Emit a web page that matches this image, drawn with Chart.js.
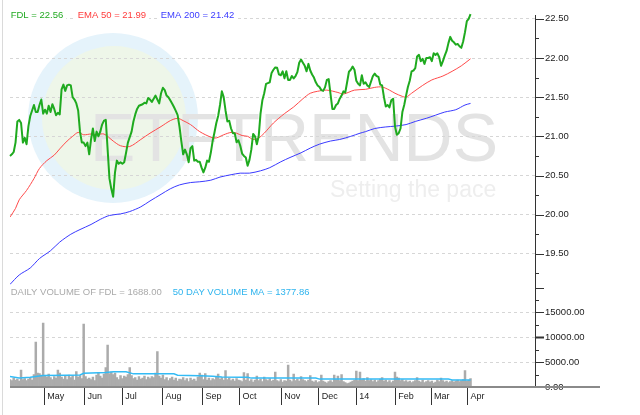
<!DOCTYPE html>
<html>
<head>
<meta charset="utf-8">
<title>FDL daily</title>
<script src="https://cdn.jsdelivr.net/npm/chart.js@4"></script>
<style>
  html, body { margin: 0; padding: 0; background: #fff; }
  #wrap { width: 640px; height: 415px; }
</style>
</head>
<body>
<div id="wrap"><canvas id="chart" width="640" height="415"></canvas></div>
<script>
// === Data (one entry per trading session, session 0 = early Apr 2013) ===
const fdl = [
  20.75, 20.77, 20.80, 20.92, 21.19, 21.21, 21.17, 20.92, 20.98, 20.90,
  21.13, 21.26, 21.33, 21.40, 21.31, 21.31, 21.40, 21.47, 21.29, 21.34,
  21.29, 21.39, 21.31, 21.41, 21.35, 21.27, 21.30, 21.28, 21.60, 21.66,
  21.58, 21.65, 21.66, 21.65, 21.50, 21.47, 21.42, 21.33, 21.06, 20.92,
  20.92, 20.875, 20.92, 20.77, 20.96, 21.10, 20.94, 21.06, 21.00, 21.06,
  21.15, 21.20, 21.21, 20.83, 20.46, 20.33, 20.23, 20.54, 20.69, 20.65,
  20.67, 20.65, 20.67, 20.79, 20.92, 20.99, 21.06, 21.19, 21.28, 21.35,
  21.39, 21.40, 21.41, 21.43, 21.42, 21.49, 21.47, 21.44, 21.48, 21.52,
  21.47, 21.42, 21.55, 21.62, 21.59, 21.52, 21.50, 21.46, 21.42, 21.375,
  21.325, 21.27, 21.125, 20.94, 20.77, 20.83, 20.77, 20.67, 20.85, 20.875,
  20.69, 20.70, 20.675, 20.675, 20.60, 20.54, 20.60, 20.69, 20.675, 20.79,
  20.94, 21.05, 21.17, 21.26, 21.40, 21.575, 21.50, 21.33, 21.19, 21.20,
  21.10, 21.04, 21.04, 20.925, 20.95, 20.88, 20.78, 20.75, 20.73, 20.625,
  20.70, 20.83, 21.03, 21.00, 20.90, 21.00, 21.29, 21.46, 21.55, 21.67,
  21.68, 21.69, 21.81, 21.85, 21.88, 21.875, 21.79, 21.78, 21.83, 21.74,
  21.83, 21.72, 21.72, 21.77, 21.74, 21.77, 21.82, 21.94, 21.98, 21.94,
  21.90, 21.83, 21.925, 21.84, 21.79, 21.75, 21.69, 21.65, 21.63, 21.59,
  21.58, 21.625, 21.72, 21.73, 21.54, 21.35, 21.35, 21.40, 21.42, 21.48,
  21.52, 21.575, 21.56, 21.69, 21.825, 21.85, 21.89, 21.85, 21.71, 21.67,
  21.65, 21.78, 21.67, 21.69, 21.65, 21.63, 21.70, 21.77, 21.80, 21.77,
  21.76, 21.66, 21.65, 21.50, 21.38, 21.40, 21.37, 21.46, 21.48, 21.125,
  21.02, 21.04, 21.10, 21.31, 21.40, 21.52, 21.63, 21.71, 21.83, 21.84,
  21.87, 22.02, 22.04, 21.96, 21.99, 21.925, 22.00, 22.00, 22.01, 21.96,
  22.06, 22.04, 22.06, 22.01, 21.90, 21.96, 22.03, 22.09, 22.19, 22.27,
  22.22, 22.20, 22.17, 22.18, 22.15, 22.13, 22.21, 22.33, 22.47, 22.50,
  22.56
];

const ema50Days = [0, 3, 5, 9, 13, 16, 20, 24, 27, 31, 34, 37, 40, 44, 47, 51, 56, 60, 65, 71,
  76, 82, 87, 91, 94, 98, 103, 109, 112, 116, 120, 123, 126, 129, 132, 135, 138, 143, 149, 154,
  159, 163, 167, 172, 178, 181, 187, 193, 198, 202, 206, 209, 213, 215, 218, 224, 229, 235, 240, 245, 250];
const ema50 = [19.97, 20.08, 20.19, 20.31, 20.46, 20.59, 20.69, 20.76, 20.84, 20.94,
  21.00, 21.05, 21.02, 21.03, 21.02, 21.03, 20.94, 20.88, 20.87, 20.96,
  21.04, 21.125, 21.20, 21.23, 21.20, 21.15, 21.06, 20.99, 20.98, 21.02,
  21.05, 21.04, 21.01, 21.00, 20.96, 20.98, 21.04, 21.17, 21.29, 21.375,
  21.48, 21.55, 21.575, 21.59, 21.56, 21.54, 21.59, 21.60, 21.625, 21.63,
  21.59, 21.55, 21.51, 21.50, 21.55, 21.65, 21.72, 21.77, 21.83, 21.90, 21.99];

const ema200Days = [0, 5, 11, 16, 22, 27, 33, 38, 44, 49, 54, 60, 65, 71, 76, 82, 87, 92, 98, 103,
  109, 114, 120, 125, 130, 136, 141, 147, 152, 158, 163, 168, 174, 179, 185, 190, 193, 198, 204, 209,
  215, 220, 226, 231, 236, 242, 247, 250];
const ema200 = [19.11, 19.23, 19.32, 19.44, 19.54, 19.65, 19.75, 19.81, 19.875, 19.94,
  19.99, 20.01, 20.04, 20.10, 20.175, 20.26, 20.33, 20.38, 20.41, 20.42,
  20.44, 20.48, 20.51, 20.53, 20.53, 20.56, 20.60, 20.675, 20.73, 20.79,
  20.85, 20.90, 20.94, 20.96, 21.00, 21.04, 21.06, 21.10, 21.12, 21.13,
  21.15, 21.19, 21.23, 21.27, 21.31, 21.34, 21.40, 21.42];

const volume = [
  1500, 1300, 1800, 1400, 1600, 1200, 3400, 1500, 1700, 1300,
  1600, 1900, 1400, 2500, 9000, 2800, 2700, 2400, 12800, 2300,
  2000, 2600, 1900, 1500, 2100, 1800, 3400, 2800, 2000, 1600,
  2200, 1500, 2400, 1900, 2300, 1400, 3100, 2000, 2300, 1700,
  12600, 2100, 1600, 1800, 1500, 2000, 1300, 2400, 2900, 2200,
  1800, 2600, 3900, 8400, 2700, 3000, 2500, 2800, 1900, 1500,
  2300, 1700, 2200, 2000, 2500, 3900, 2300, 1700, 1900, 1400,
  2100, 1600, 1800, 2200, 1500, 2000, 1700, 2100, 1900, 2800,
  7100, 2200, 1800, 2400, 1500, 1900, 1300, 1700, 2000, 1400,
  1800, 1200, 1600, 1500, 1900, 1300, 1700, 1100, 1800, 1400,
  1600, 1200, 2000, 2800, 2400, 1500, 2700, 1400, 1800, 1300,
  1700, 1500, 2000, 2600, 1600, 1900, 1400, 3300, 1500, 1800,
  1300, 1600, 1200, 1700, 1400, 1300, 1100, 2900, 1400, 2700,
  1200, 1500, 1000, 1400, 2200, 1300, 1600, 1100, 2000, 1500,
  1300, 1700, 1200, 1400, 3000, 1300, 1100, 1500, 1000, 1300,
  1200, 4400, 1400, 1100, 2600, 1300, 1600, 1200, 2100, 1500,
  1300, 1100, 1400, 2300, 1200, 1000, 1300, 900, 1100, 2400,
  1200, 1000, 800, 1100, 1300, 1000, 2400, 1500, 2200, 1300,
  2500, 1100, 900, 700, 800, 1000, 1200, 1400, 3200, 1300,
  3000, 1500, 1700, 1200, 1900, 1300, 1500, 1100, 1400, 1000,
  1300, 1600, 1900, 1200, 1400, 1000, 1300, 900, 1200, 3000,
  2000, 1800, 1300, 1500, 1100, 1300, 1000, 1200, 900, 1100,
  1300, 1900, 1200, 1000, 1400, 900, 1100, 1300, 1000, 1200,
  800, 1000, 1400, 1100, 1800, 1300, 1000, 1200, 900, 1100,
  1300, 1000, 1200, 1400, 1100, 1300, 1500, 3300, 1200, 1400,
  1688
];

const volMaDays = [0, 5, 11, 18, 31, 38, 40, 52, 56, 63, 67, 76, 89, 91, 103, 110, 115, 125, 129, 131, 166, 168, 238, 240, 250];
const volMa = [2100, 1800, 1970, 2300, 2370, 2400, 2760, 2900, 3030, 3030, 2630, 2630, 2630, 2370, 2240, 2170, 2000, 1970, 1970, 1780, 1780, 1580, 1580, 1400, 1400];

const monthPos = [18.6, 40.4, 61.0, 82.8, 104.5, 124.6, 147.3, 167.6, 188.0, 209.2, 228.6, 248.4];
const monthLabels = ['May', 'Jun', 'Jul', 'Aug', 'Sep', 'Oct', 'Nov', 'Dec', '14', 'Feb', 'Mar', 'Apr'];

const priceTicks = [19.25, 19.5, 19.75, 20, 20.25, 20.5, 20.75, 21, 21.25, 21.5, 21.75, 22, 22.25, 22.5];
const volTicks = [0, 2500, 5000, 7500, 10000, 12500, 15000, 17500];

// === Helpers ===
const FONT = '"Liberation Sans", Arial, Helvetica, sans-serif';
Chart.defaults.font.family = FONT;

const isHalf = v => Math.abs(v * 2 - Math.round(v * 2)) < 1e-6;
const isVolMajor = v => v % 5000 === 0;
const pts = (xs, ys) => ys.map((y, i) => ({ x: xs[i], y }));
const seq = ys => ys.map((y, i) => ({ x: i, y }));

function legendText(c, text, x, y, color) {
  c.font = '9.5px ' + FONT;
  const w = c.measureText(text).width;
  c.fillStyle = '#fff';
  c.fillRect(x - 3, y - 6, w + 6, 12);
  c.fillStyle = color;
  c.textBaseline = 'middle';
  c.textAlign = 'left';
  c.fillText(text, x, y);
}

function hLine(c, x1, x2, y) {
  c.beginPath();
  c.moveTo(x1, y);
  c.lineTo(x2, y);
  c.stroke();
}

// === Decorations: watermark, tick marks, legends ===
const decor = {
  id: 'decor',
  beforeDraw(chart) {
    const c = chart.ctx;
    c.save();
    c.fillStyle = '#fff';
    c.fillRect(0, 0, chart.width, chart.height);

    // watermark logo
    c.fillStyle = '#e5f3fb';
    c.beginPath(); c.arc(113, 118, 85, 0, Math.PI * 2); c.fill();
    c.fillStyle = '#eef6e9';
    c.beginPath(); c.arc(114, 118, 72, 0, Math.PI * 2); c.fill();
    c.fillStyle = '#e3e3e3';
    c.font = '68px ' + FONT;
    c.textBaseline = 'alphabetic';
    c.fillText('ETFTRENDS', 90, 161);
    c.fillStyle = '#eeeeee';
    c.font = '23px ' + FONT;
    c.fillText('Setting the pace', 330, 197);

    // left frame line
    c.strokeStyle = '#dadada';
    c.lineWidth = 1;
    c.beginPath(); c.moveTo(2.5, 0); c.lineTo(2.5, chart.height); c.stroke();
    c.restore();
  },
  afterDraw(chart) {
    const c = chart.ctx;
    const yp = chart.scales.y, yv = chart.scales.yv, area = chart.chartArea;
    c.save();
    c.strokeStyle = '#333';
    c.lineWidth = 1;
    priceTicks.forEach(v => {
      const y = Math.round(yp.getPixelForValue(v)) + 0.5;
      hLine(c, yp.left, yp.left + (isHalf(v) ? 9 : 4), y);
    });
    volTicks.forEach(v => {
      const y = Math.round(yv.getPixelForValue(v)) + 0.5;
      c.lineWidth = v === 10000 ? 2 : 1;
      hLine(c, yv.left, yv.left + (isVolMajor(v) ? 9 : 4), y);
    });
    c.lineWidth = 1;
    hLine(c, yv.left, yv.left + 9, Math.round(yv.top) + 0.5);

    // bottom axis line running past the price axis
    c.strokeStyle = '#8a8a8a';
    c.lineWidth = 2;
    hLine(c, area.left, 600, area.bottom);

    legendText(c, 'FDL = 22.56', 10.7, 15, '#22aa22');
    legendText(c, 'EMA 50 = 21.99', 77.7, 15, '#ff3b3b');
    legendText(c, 'EMA 200 = 21.42', 160.7, 15, '#3b3bff');
    legendText(c, 'DAILY VOLUME OF FDL = 1688.00', 10.7, 292.3, '#aaaaaa');
    legendText(c, '50 DAY VOLUME MA = 1377.86', 172.7, 292.3, '#2eb4ee');
    c.restore();
  }
};

// === Chart ===
new Chart(document.getElementById('chart'), {
  type: 'line',
  data: {
    datasets: [
      {
        label: 'FDL', data: seq(fdl), yAxisID: 'y',
        borderColor: '#1faa1f', borderWidth: 2, borderJoinStyle: 'round',
        pointRadius: 0, pointHoverRadius: 0, tension: 0, clip: false, order: 0
      },
      {
        label: 'EMA 50', data: pts(ema50Days, ema50), yAxisID: 'y',
        borderColor: '#ff4a4a', borderWidth: 1,
        pointRadius: 0, pointHoverRadius: 0, tension: 0.3, order: 1
      },
      {
        label: 'EMA 200', data: pts(ema200Days, ema200), yAxisID: 'y',
        borderColor: '#3a3aff', borderWidth: 1,
        pointRadius: 0, pointHoverRadius: 0, tension: 0.3, order: 2
      },
      {
        label: '50 DAY VOLUME MA', data: pts(volMaDays, volMa), yAxisID: 'yv',
        borderColor: '#33bbf5', borderWidth: 1.5,
        pointRadius: 0, pointHoverRadius: 0, tension: 0, order: 3
      },
      {
        type: 'bar', label: 'DAILY VOLUME', data: seq(volume), yAxisID: 'yv',
        backgroundColor: '#ababab', borderWidth: 0,
        barPercentage: 1, categoryPercentage: 1, order: 4
      }
    ]
  },
  options: {
    responsive: false,
    animation: false,
    events: [],
    layout: { autoPadding: false, padding: { left: 10, top: 10, right: 0, bottom: 0 } },
    plugins: { legend: { display: false }, tooltip: { enabled: false } },
    scales: {
      x: {
        type: 'linear', min: 0, max: 285, offset: false,
        afterBuildTicks: s => { s.ticks = monthPos.map(value => ({ value })); },
        afterFit: s => { s.height = 28; },
        grid: { offset: false, drawOnChartArea: false, drawTicks: true, tickLength: 18, color: '#333', tickColor: '#333' },
        border: { display: false },
        ticks: {
          autoSkip: false, maxRotation: 0, align: 'start', labelOffset: 3, padding: -14,
          color: '#222', font: { size: 9 },
          callback: (v, i) => monthLabels[i]
        }
      },
      y: {
        position: 'right', stack: 'panes', stackWeight: 276,
        min: 19.07, max: 22.54,
        afterBuildTicks: s => { s.ticks = priceTicks.map(value => ({ value })); },
        afterFit: s => { s.width = 105; },
        grid: {
          drawTicks: false,
          color: ctx => isHalf(ctx.tick.value) ? '#d6d6d6' : 'rgba(0,0,0,0)'
        },
        border: { color: '#333', width: 1, dash: [3, 3] },
        ticks: {
          autoSkip: false, padding: 10, color: '#222', font: { size: 9.5 },
          callback: v => isHalf(v) ? v.toFixed(2) : ''
        }
      },
      yv: {
        position: 'right', stack: 'panes', stackWeight: 101,
        min: 0, max: 19900,
        afterBuildTicks: s => { s.ticks = volTicks.map(value => ({ value })); },
        afterFit: s => { s.width = 105; },
        grid: {
          drawTicks: false,
          color: ctx => (isVolMajor(ctx.tick.value) && ctx.tick.value > 0) ? '#d6d6d6' : 'rgba(0,0,0,0)'
        },
        border: { color: '#333', width: 1, dash: [3, 3] },
        ticks: {
          autoSkip: false, padding: 10, color: '#222', font: { size: 9.5 },
          callback: v => isVolMajor(v) ? v.toFixed(2) : ''
        }
      }
    }
  },
  plugins: [decor]
});
</script>
</body>
</html>
